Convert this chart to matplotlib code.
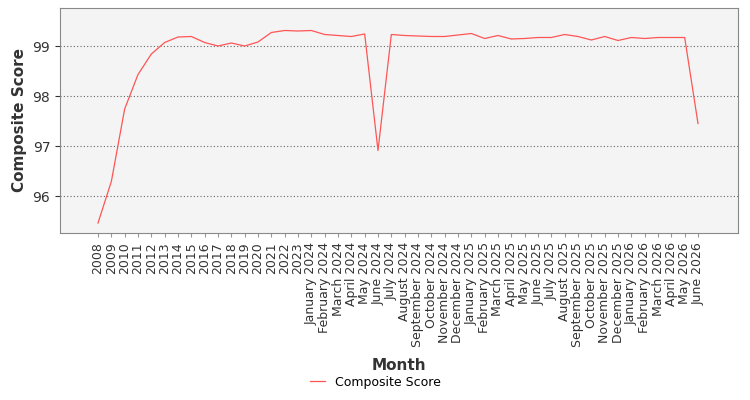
import matplotlib
matplotlib.use("Agg")
import matplotlib.pyplot as plt

months = [str(y) for y in range(2008, 2024)] + [
    "January 2024", "February 2024", "March 2024", "April 2024", "May 2024", "June 2024",
    "July 2024", "August 2024", "September 2024", "October 2024", "November 2024", "December 2024",
    "January 2025", "February 2025", "March 2025", "April 2025", "May 2025", "June 2025",
    "July 2025", "August 2025", "September 2025", "October 2025", "November 2025", "December 2025",
    "January 2026", "February 2026", "March 2026", "April 2026", "May 2026", "June 2026"]
scores = [95.46, 96.29, 97.74, 98.43, 98.84, 99.07, 99.18, 99.19, 99.07, 99.0, 99.06, 99.0,
          99.08, 99.27, 99.31, 99.30, 99.31, 99.23, 99.21, 99.19, 99.24, 96.91, 99.23, 99.21,
          99.2, 99.19, 99.19, 99.22, 99.25, 99.15, 99.21, 99.14, 99.15, 99.17, 99.17, 99.23,
          99.19, 99.12, 99.19, 99.11, 99.17, 99.15, 99.17, 99.17, 99.17, 97.45]

fig = plt.figure(figsize=(7.5, 4), dpi=100)
ax = fig.add_axes([0.08, 0.4175, 0.904, 0.5625])
ax.set_facecolor("#f4f4f4")
x = list(range(len(months)))
ax.plot(x, scores, color="#ff5555", lw=0.9, label="Composite Score")
ax.set_xlim(-2.85, len(months) + 2)
ax.set_ylim(95.26, 99.76)
ax.set_yticks([96, 97, 98, 99])
ax.set_xticks(x)
ax.set_xticklabels(months, rotation=90, fontsize=9, color="#333333")
ax.tick_params(axis="y", labelsize=10, colors="#333333")
ax.tick_params(axis="x", length=3, color="#999999")
ax.grid(axis="y", color="#666666", ls=(0, (1, 2)), lw=0.8)
for s in ax.spines.values():
    s.set_color("#888888")
ax.set_ylabel("Composite Score", fontsize=11, fontweight="bold", color="#333333")
ax.set_xlabel("Month", fontsize=11, fontweight="bold", color="#333333", labelpad=8)
fig.legend(loc="lower center", bbox_to_anchor=(0.5, 0.0), frameon=False, fontsize=9, handlelength=1.2)
fig.savefig("out.png")
